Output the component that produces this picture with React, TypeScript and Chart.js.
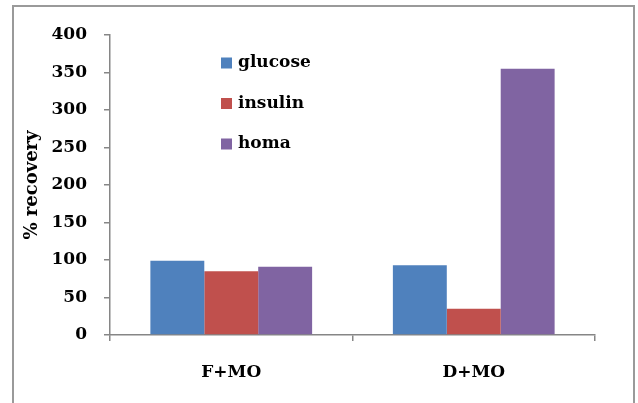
import React, { useEffect, useRef } from "react";
import { Chart, registerables } from "chart.js";

Chart.register(...registerables);

const categories = ["F+MO", "D+MO"];
const seriesLabels = ["glucose", "insulin", "homa"];
const glucose = [99, 93];
const insulin = [85, 35];
const homa = [91, 355];
const colors = ["#4F81BD", "#C0504D", "#8064A2"];
const FONT = "'DejaVu Serif', serif";
const FSIZE = 17;

const legendPlugin = {
  id: "sideLegend",
  afterDraw(chart: any) {
    const ctx = chart.ctx;
    const rows = [63, 103.5, 144];
    ctx.save();
    chart.data.datasets.forEach((ds: any, i: number) => {
      const y = rows[i];
      ctx.fillStyle = ds.backgroundColor;
      ctx.fillRect(221, y - 5.5, 11, 11);
      ctx.fillStyle = "#000";
      ctx.font = `bold ${FSIZE}px ${FONT}`;
      ctx.textBaseline = "middle";
      ctx.textAlign = "left";
      ctx.fillText(ds.label, 238, y);
    });
    ctx.restore();
  },
};

export default function App() {
  const ref = useRef<HTMLCanvasElement>(null);
  useEffect(() => {
    if (!ref.current) return;
    const data = [glucose, insulin, homa];
    const chart = new Chart(ref.current, {
      type: "bar",
      data: {
        labels: categories,
        datasets: seriesLabels.map((label, i) => ({
          label,
          data: data[i],
          backgroundColor: colors[i],
          borderWidth: 0,
          categoryPercentage: 0.667,
          barPercentage: 1,
        })),
      },
      options: {
        animation: false,
        responsive: false,
        devicePixelRatio: 1,
        layout: { padding: { top: 35, right: 43, bottom: 0, left: 0 } },
        plugins: { legend: { display: false }, tooltip: { enabled: false } },
        scales: {
          x: {
            grid: {
              drawOnChartArea: false,
              drawTicks: true,
              tickLength: 6,
              color: "#868686",
              lineWidth: 1.5,
            },
            border: { display: true, color: "#868686", width: 1.5 },
            ticks: {
              color: "#000",
              font: { family: FONT, size: FSIZE, weight: "bold" },
              padding: 21,
            },
            afterFit: (s: any) => {
              s.height = 68;
            },
          },
          y: {
            min: 0,
            max: 400,
            ticks: {
              stepSize: 50,
              color: "#000",
              font: { family: FONT, size: FSIZE, weight: "bold" },
              padding: 17,
            },
            grid: {
              drawOnChartArea: false,
              drawTicks: true,
              tickLength: 6,
              color: "#868686",
              lineWidth: 1.5,
            },
            border: { display: true, color: "#868686", width: 1.5 },
            title: {
              display: true,
              text: "% recovery",
              color: "#000",
              font: { family: FONT, size: 18, weight: "bold" },
              padding: { top: 22, bottom: 0 },
            },
            afterFit: (s: any) => {
              s.width = 110;
            },
          },
        },
      },
      plugins: [legendPlugin],
    });
    return () => chart.destroy();
  }, []);

  return (
    <div style={{ position: "absolute", left: 0, top: 0, width: 638, height: 403, overflow: "hidden", background: "#fff" }}>
      <div
        style={{
          position: "absolute",
          left: 12,
          top: 5,
          width: 619,
          height: 420,
          border: "2px solid #9a9a9a",
        }}
      />
      <canvas ref={ref} width={638} height={403} style={{ position: "absolute", left: 0, top: 0 }} />
    </div>
  );
}
